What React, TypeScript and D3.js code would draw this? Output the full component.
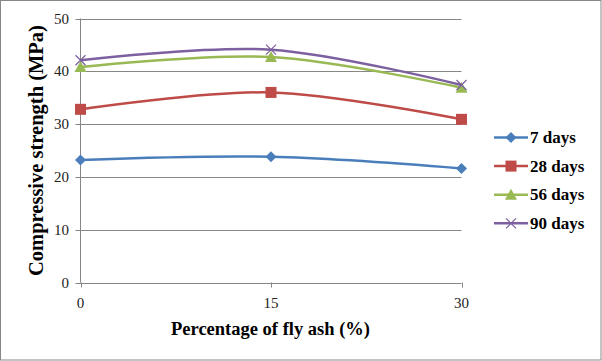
import * as d3 from "d3";

const ashPercent = [0, 15, 30];
const days7 = [23.2, 23.8, 21.6];
const days28 = [32.8, 36.0, 30.9];
const days56 = [40.8, 42.7, 36.9];
const days90 = [42.1, 44.1, 37.4];
const yTicks = [0, 10, 20, 30, 40, 50];

const seriesList = [
  { name: "7 days", values: days7, color: "#4A7EBB", marker: "diamond" },
  { name: "28 days", values: days28, color: "#BE4B48", marker: "square" },
  { name: "56 days", values: days56, color: "#98B954", marker: "triangle" },
  { name: "90 days", values: days90, color: "#7D60A0", marker: "x" },
];

const width = 602, height = 361;
const x = d3.scaleLinear().domain([0, 30]).range([80.5, 461.5]);
const y = d3.scaleLinear().domain([0, 50]).range([282.5, 18.5]);

const Marker = ({ kind, cx, cy, color }: { kind: string; cx: number; cy: number; color: string }) => {
  if (kind === "diamond")
    return <path d={`M${cx},${cy - 5.5}L${cx + 5.5},${cy}L${cx},${cy + 5.5}L${cx - 5.5},${cy}Z`} fill={color} />;
  if (kind === "square")
    return <rect x={cx - 5.5} y={cy - 5.5} width={11} height={11} fill={color} />;
  if (kind === "triangle")
    return <path d={`M${cx},${cy - 6}L${cx + 6},${cy + 5}L${cx - 6},${cy + 5}Z`} fill={color} />;
  return (
    <path d={`M${cx - 5},${cy - 5}L${cx + 5},${cy + 5}M${cx - 5},${cy + 5}L${cx + 5},${cy - 5}`}
      stroke={color} strokeWidth={1.2} fill="none" />
  );
};

export default function App() {
  const line = d3.line<number>()
    .x((_, i) => x(ashPercent[i]))
    .y(d => y(d))
    .curve(d3.curveCatmullRom.alpha(0.5));

  const serif = '"Liberation Serif", "DejaVu Serif", serif';

  return (
    <svg width={width} height={height} style={{ position: "absolute", left: 0, top: 0, fontFamily: serif }}>
      <rect x={0.5} y={0.5} width={width - 1.5} height={height - 1.5} fill="#fff" stroke="#878787" />

      {/* gridlines */}
      {yTicks.map(t => (
        <line key={t} x1={x(0) - 5} x2={x(30)} y1={Math.round(y(t)) + 0.5} y2={Math.round(y(t)) + 0.5}
          stroke="#868686" />
      ))}
      <line x1={x(0)} x2={x(0)} y1={y(50)} y2={y(0)} stroke="#868686" />
      {ashPercent.map(v => (
        <line key={v} x1={Math.round(x(v)) + 0.5} x2={Math.round(x(v)) + 0.5} y1={y(0)} y2={y(0) + 5}
          stroke="#868686" />
      ))}

      {/* tick labels */}
      {yTicks.map(t => (
        <text key={t} x={69} y={y(t) + 5} textAnchor="end" fontSize={15} fill="#222">{t}</text>
      ))}
      {ashPercent.map(v => (
        <text key={v} x={x(v)} y={308} textAnchor="middle" fontSize={15} fill="#222">{v}</text>
      ))}

      {/* series */}
      {seriesList.map(s => (
        <g key={s.name}>
          <path d={line(s.values) ?? ""} fill="none" stroke={s.color} strokeWidth={2.5} />
          {s.values.map((v, i) => (
            <Marker key={i} kind={s.marker} cx={x(ashPercent[i])} cy={y(v)} color={s.color} />
          ))}
        </g>
      ))}

      {/* axis titles */}
      <text x={270.5} y={335} textAnchor="middle" fontSize={18.5} fontWeight="bold">Percentage of fly ash (%)</text>
      <text transform="translate(43,150.5) rotate(-90)" textAnchor="middle" fontSize={20.5} fontWeight="bold">
        Compressive strength (MPa)
      </text>

      {/* legend */}
      {seriesList.map((s, i) => {
        const ly = 137.5 + i * 28.6;
        return (
          <g key={s.name}>
            <line x1={494} x2={528} y1={ly} y2={ly} stroke={s.color} strokeWidth={2.5} />
            <Marker kind={s.marker} cx={511} cy={ly} color={s.color} />
            <text x={530} y={ly + 5.5} fontSize={17} fontWeight="bold">{s.name}</text>
          </g>
        );
      })}
    </svg>
  );
}
